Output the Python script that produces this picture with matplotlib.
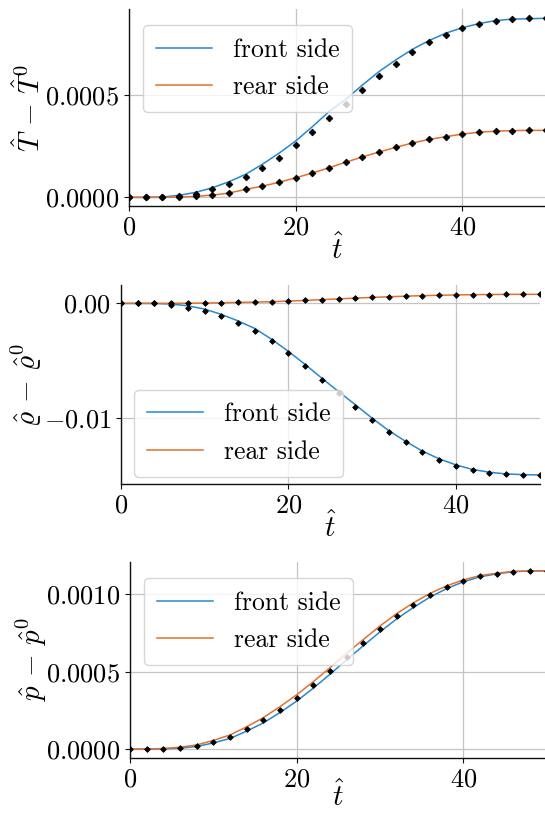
import matplotlib
matplotlib.use("Agg")
import matplotlib.pyplot as plt
import numpy as np

plt.rcParams['font.family'] = 'serif'
plt.rcParams['font.serif'] = ['cmr10']
plt.rcParams['mathtext.fontset'] = 'cm'
plt.rcParams['axes.formatter.use_mathtext'] = True
plt.rcParams['font.size'] = 18

# ---------------- data ----------------
t = [0, 2, 4, 6, 8, 10, 12, 14, 16, 18, 20, 22, 24, 26, 28, 30, 32, 34, 36, 38, 40, 42, 44, 46, 48, 50]

# Panel 1: temperature difference
T_front_line = [0, 0, 1.5e-6, 9.8e-6, 2.45e-5, 4.7e-5, 7.65e-5, 1.13e-4, 1.62e-4, 2.16e-4, 2.76e-4, 3.46e-4,
                4.20e-4, 4.80e-4, 5.50e-4, 6.16e-4, 6.73e-4, 7.25e-4, 7.68e-4, 8.04e-4, 8.31e-4, 8.51e-4,
                8.66e-4, 8.73e-4, 8.75e-4, 8.77e-4]
T_front_pts = [0, 0, 1.5e-6, 6.4e-6, 1.77e-5, 3.9e-5, 6.5e-5, 9.95e-5, 1.44e-4, 1.94e-4, 2.55e-4, 3.19e-4,
               3.87e-4, 4.57e-4, 5.26e-4, 5.93e-4, 6.55e-4, 7.11e-4, 7.60e-4, 7.97e-4, 8.28e-4, 8.50e-4,
               8.66e-4, 8.73e-4, 8.77e-4, 8.77e-4]
T_rear = [0, 0, 0, 1.6e-6, 4.9e-6, 1.1e-5, 2.1e-5, 3.9e-5, 5.5e-5, 7.35e-5, 9.6e-5, 1.19e-4, 1.45e-4,
          1.72e-4, 1.98e-4, 2.22e-4, 2.45e-4, 2.66e-4, 2.84e-4, 2.97e-4, 3.10e-4, 3.19e-4, 3.24e-4,
          3.27e-4, 3.28e-4, 3.28e-4]

# Panel 2: density difference
rho_front_line = [0, 0, 0, -6e-5, -2.1e-4, -5.0e-4, -9.6e-4, -1.53e-3, -2.19e-3, -3.13e-3, -4.18e-3,
                  -5.32e-3, -6.52e-3, -7.69e-3, -8.83e-3, -1.0e-2, -1.109e-2, -1.202e-2, -1.287e-2,
                  -1.354e-2, -1.407e-2, -1.447e-2, -1.471e-2, -1.486e-2, -1.492e-2, -1.495e-2]
rho_front_pts = [0, 0, 0, -1.0e-4, -3.8e-4, -6.5e-4, -1.09e-3, -1.67e-3, -2.40e-3, -3.31e-3, -4.33e-3,
                 -5.44e-3, -6.64e-3, -7.81e-3, -9.01e-3, -1.012e-2, -1.117e-2, -1.211e-2, -1.296e-2,
                 -1.363e-2, -1.416e-2, -1.451e-2, -1.474e-2, -1.489e-2, -1.495e-2, -1.495e-2]
rho_rear = [0, 0, 0, 5e-6, 1.5e-5, 3e-5, 5.5e-5, 8.5e-5, 1.15e-4, 1.5e-4, 2.0e-4, 2.6e-4, 3.3e-4,
            3.95e-4, 4.6e-4, 5.2e-4, 5.8e-4, 6.3e-4, 6.75e-4, 7.1e-4, 7.4e-4, 7.6e-4, 7.75e-4,
            7.85e-4, 7.9e-4, 7.9e-4]

# Panel 3: pressure difference
p_front_line = [0, 2e-6, 3e-6, 7.5e-6, 1.8e-5, 4.1e-5, 7.0e-5, 1.17e-4, 1.70e-4, 2.37e-4, 3.11e-4,
                3.94e-4, 4.84e-4, 5.77e-4, 6.68e-4, 7.57e-4, 8.41e-4, 9.14e-4, 9.81e-4, 1.036e-3,
                1.080e-3, 1.112e-3, 1.131e-3, 1.145e-3, 1.150e-3, 1.150e-3]
p_rear_line = [0, 2e-6, 5e-6, 1.35e-5, 2.8e-5, 5.7e-5, 9.2e-5, 1.45e-4, 2.04e-4, 2.75e-4, 3.51e-4,
               4.36e-4, 5.26e-4, 6.19e-4, 7.08e-4, 7.95e-4, 8.75e-4, 9.44e-4, 1.005e-3, 1.054e-3,
               1.092e-3, 1.120e-3, 1.135e-3, 1.147e-3, 1.150e-3, 1.150e-3]
p_pts = [0, 2e-6, 4e-6, 1.05e-5, 2.3e-5, 4.9e-5, 8.1e-5, 1.31e-4, 1.87e-4, 2.56e-4, 3.31e-4, 4.15e-4,
         5.05e-4, 5.98e-4, 6.88e-4, 7.76e-4, 8.58e-4, 9.29e-4, 9.93e-4, 1.045e-3, 1.086e-3, 1.116e-3,
         1.133e-3, 1.146e-3, 1.150e-3, 1.150e-3]

labels = ["front side", "rear side"]
ylabels = [r"$\hat{T}\,-\,\hat{T}^0$", r"$\hat{\varrho}\,-\,\hat{\varrho}^0$", r"$\hat{p}\,-\,\hat{p}^0$"]
xlabel = r"$\hat{t}$"
xticks = [0, 20, 40]
yticks = [[0.0, 0.0005], [-0.01, 0.0], [0.0, 0.0005, 0.0010]]
xlim = (0, 50)

blue = '#2289d2'
orange = '#e4702a'

W, H = 545, 815
fig = plt.figure(figsize=(W / 100, H / 100), dpi=100)

def rect(l, r, top, bot):
    return [l / W, 1 - bot / H, (r - l) / W, (bot - top) / H]

axes = [fig.add_axes(rect(129, 545.7, 9.35, 206.3)),
        fig.add_axes(rect(121, 539.5, 285.3, 484)),
        fig.add_axes(rect(130, 546.7, 562, 758.2))]

panels = [
    (T_front_line, T_rear, [T_front_pts, T_rear], 3.4),
    (rho_front_line, rho_rear, [rho_front_pts, rho_rear], 2.9),
    (p_front_line, p_rear_line, [p_pts], 2.9),
]

legend_anchor = [(14 / 416.7, 1 - 15.6 / 197), (13 / 418.4, 7 / 198.7), (14 / 416.7, 1 - 16 / 196.2)]
legend_loc = ['upper left', 'lower left', 'upper left']
ylabel_x = [-0.2, -0.184, -0.195]
xlabel_pad = [-4, -4, -7.5]

for i, ax in enumerate(axes):
    fl, rl, pts, ms = panels[i]
    ax.grid(True, color='#c4c4c4', linewidth=0.9)
    ax.set_axisbelow(True)
    ax.plot(t, fl, color=blue, lw=1.1, label=labels[0], zorder=2)
    ax.plot(t, rl, color=orange, lw=1.1, label=labels[1], zorder=2)
    for s in pts:
        ax.plot(t, s, linestyle='none', marker='D', ms=ms, color='black', mec='black', mew=0.6, zorder=3)
    ax.set_xlim(*xlim)
    ax.margins(y=0.05)
    ax.set_xticks(xticks)
    ax.set_yticks(yticks[i])
    for sp in ['top', 'right']:
        ax.spines[sp].set_visible(False)
    for sp in ['left', 'bottom']:
        ax.spines[sp].set_color('#111111')
        ax.spines[sp].set_linewidth(1.0)
    ax.tick_params(labelsize=19, colors='#111111', labelcolor='black')
    ax.set_xlabel(xlabel, fontsize=21, labelpad=xlabel_pad[i])
    ax.set_ylabel(ylabels[i], fontsize=21)
    ax.yaxis.set_label_coords(ylabel_x[i], 0.5)
    leg = ax.legend(loc=legend_loc[i], bbox_to_anchor=legend_anchor[i], borderaxespad=0,
                    fontsize=18.5, handlelength=2.2, labelspacing=0.55, borderpad=0.5,
                    framealpha=0.8)

fig.savefig("out.png", dpi=100)
